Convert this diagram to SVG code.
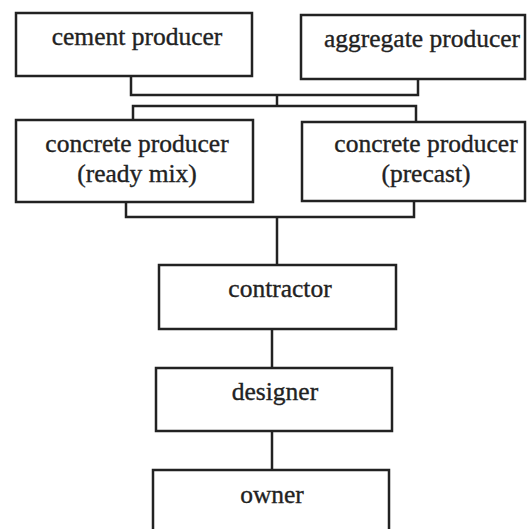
<svg xmlns="http://www.w3.org/2000/svg" width="528" height="529" viewBox="0 0 528 529">
<style>
.box{fill:#fff;stroke:#222;stroke-width:2.5}
.ln{fill:none;stroke:#222;stroke-width:2.5}
.t{font-size:25.5px;fill:#222;stroke:#222;stroke-width:0.35;text-anchor:middle}
</style>
<rect width="528" height="529" fill="#fff"/>
<g id="connectors">
<polyline class="ln" points="131,76 131,95 418,95 418,79"/>
<line class="ln" x1="277" y1="95" x2="277" y2="106"/>
<polyline class="ln" points="133,120 133,106 416,106 416,122"/>
<polyline class="ln" points="126,202 126,217 414,217 414,201"/>
<line class="ln" x1="277" y1="217" x2="277" y2="265"/>
<line class="ln" x1="272" y1="329" x2="272" y2="368"/>
<line class="ln" x1="272" y1="431" x2="272" y2="470"/>
</g>
<g font-family="'Liberation Serif', 'Times New Roman', serif">
<g id="cement">
<rect class="box" x="16" y="13" width="236" height="63"/>
<text class="t" x="137" y="45">cement producer</text>
</g>
<g id="aggregate">
<rect class="box" x="301" y="15" width="224" height="64"/>
<text class="t" x="422" y="47">aggregate producer</text>
</g>
<g id="readymix">
<rect class="box" x="16" y="120" width="237" height="82"/>
<text class="t" x="137" y="152">concrete producer</text>
<text class="t" x="137" y="182">(ready mix)</text>
</g>
<g id="precast">
<rect class="box" x="302" y="122" width="223" height="79"/>
<text class="t" x="426" y="152">concrete producer</text>
<text class="t" x="426" y="182">(precast)</text>
</g>
<g id="contractor">
<rect class="box" x="159" y="265" width="237" height="64"/>
<text class="t" x="280" y="297">contractor</text>
</g>
<g id="designer">
<rect class="box" x="156" y="368" width="236" height="63"/>
<text class="t" x="275" y="400">designer</text>
</g>
<g id="owner">
<rect class="box" x="153" y="470" width="236" height="70"/>
<text class="t" x="272" y="503">owner</text>
</g>
</g>
</svg>
